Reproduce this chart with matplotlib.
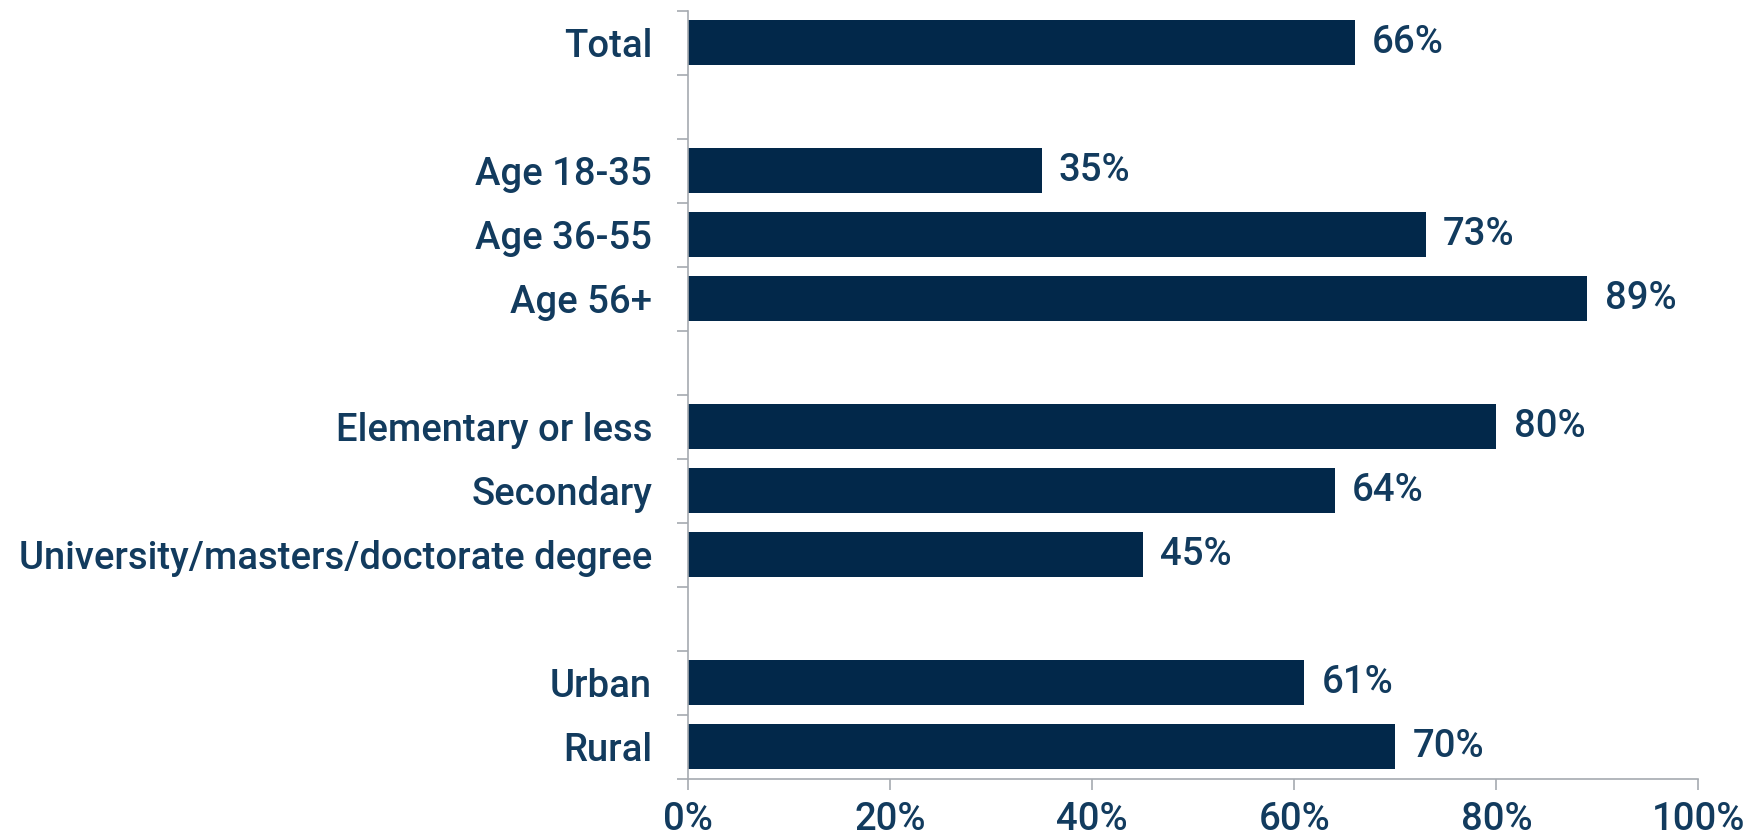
import matplotlib
matplotlib.use("Agg")
import matplotlib.pyplot as plt
from matplotlib.ticker import FuncFormatter

categories = ["Total", "", "Age 18-35", "Age 36-55", "Age 56+", "",
              "Elementary or less", "Secondary", "University/masters/doctorate degree", "",
              "Urban", "Rural"]
values = [66, None, 35, 73, 89, None, 80, 64, 45, None, 61, 70]
xticks = [0, 20, 40, 60, 80, 100]

plt.rcParams['font.family'] = ["Roboto", "DejaVu Sans"]

bar_color = "#02284A"
text_color = "#123B5E"
axis_color = "#A6AAB0"
FS = 27.5
W = "medium"

fig = plt.figure(figsize=(17.51, 8.33), dpi=100)
ax = fig.add_axes([0.393, 0.065, 0.577, 0.922])

n = len(categories)
pos = list(range(n))
for p, v in zip(pos, values):
    if v is None:
        continue
    ax.barh(p, v, height=0.7, color=bar_color)
    ax.text(v + 1.7, p, f"{v}%", va="center", ha="left", fontsize=FS,
            fontweight=W, color=text_color)

ax.set_ylim(n - 0.5, -0.5)
ax.set_xlim(0, 100)
ax.set_yticks(pos)
ax.set_yticklabels(categories)
ax.set_yticks([i - 0.5 for i in range(n + 1)], minor=True)
ax.tick_params(axis="y", which="major", length=0, pad=26, labelsize=FS, labelcolor=text_color)
ax.tick_params(axis="y", which="minor", length=8, color=axis_color, width=1.2, direction="out")
ax.set_xticks(xticks)
ax.xaxis.set_major_formatter(FuncFormatter(lambda x, _: f"{x:.0f}%"))
ax.tick_params(axis="x", length=8, color=axis_color, width=1.2, pad=8, labelsize=FS, labelcolor=text_color)
for lbl in ax.get_yticklabels() + ax.get_xticklabels():
    lbl.set_fontweight(W)

for s in ["top", "right"]:
    ax.spines[s].set_visible(False)
for s in ["left", "bottom"]:
    ax.spines[s].set_color(axis_color)
    ax.spines[s].set_linewidth(1.2)

fig.savefig("out.png", dpi=100)
